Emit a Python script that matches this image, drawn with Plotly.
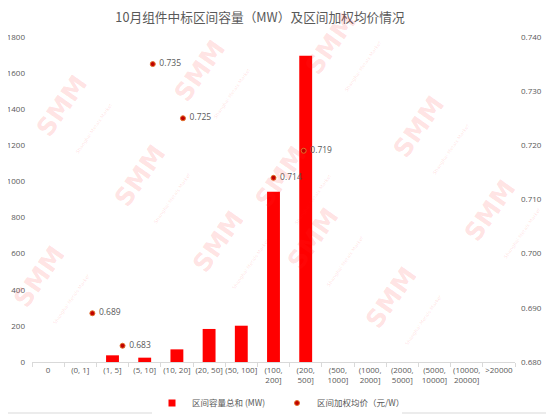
import plotly.graph_objects as go

# ---- data ----
categories = ["0", "(0, 1]", "(1, 5]", "(5, 10]", "(10, 20]", "(20, 50]", "(50, 100]",
              "(100,<br>200]", "(200,<br>500]", "(500,<br>1000]", "(1000,<br>2000]",
              "(2000,<br>5000]", "(5000,<br>10000]", "(10000,<br>20000]", ">20000"]
capacity_mw = [0, 0, 37, 24, 70, 183, 201, 943, 1696, 0, 0, 0, 0, 0, 0]

# price series is drawn on its own (secondary) category scale with 16 slots
price_slots = [2, 3, 4, 5, 8, 9]
price_values = [0.689, 0.683, 0.735, 0.725, 0.714, 0.719]

left_ticks = [0, 200, 400, 600, 800, 1000, 1200, 1400, 1600, 1800]
right_ticks = [0.680, 0.690, 0.700, 0.710, 0.720, 0.730, 0.740]

title_text = "10月组件中标区间容量（MW）及区间加权均价情况"
bar_name = "区间容量总和 (MW)"
price_name = "区间加权均价（元/W）"

OFF = 8  # page body margin
W, H = 554 - OFF, 420 - OFF
L, T = 32 - OFF, 37 - OFF
pw, ph = 483, 325
R, B = W - L - pw, H - T - ph

font_main = "Open Sans, Noto Sans CJK SC, sans-serif"
grey = "#595959"
bar_color = "#FF0000"

fig = go.Figure()

fig.add_trace(go.Bar(
    x=categories, y=capacity_mw, name=bar_name, showlegend=False,
    marker=dict(color=bar_color, line=dict(width=0)),
    xaxis="x", yaxis="y",
))
# legend entry for the bars (small square like the reference)
fig.add_trace(go.Scatter(
    x=[None], y=[None], name=bar_name, mode="markers",
    marker=dict(color=bar_color, symbol="square", size=7, line=dict(width=0)),
    xaxis="x", yaxis="y",
))

fig.add_trace(go.Scatter(
    x=price_slots, y=price_values, name=price_name, mode="markers",
    marker=dict(color="#C00000", size=5, line=dict(color="#E2702A", width=1)),
    xaxis="x2", yaxis="y2",
))
fig.add_trace(go.Scatter(
    x=price_slots, y=price_values, mode="text", showlegend=False,
    text=["   " + f"{v:.3f}" for v in price_values], textposition="middle right",
    textfont=dict(size=8.5, color=grey, family=font_main),
    xaxis="x2", yaxis="y2",
))

# watermark positions (page pixels)
wm = [(28, 67), (212, 32), (389, 5), (477, 88), (293, 138), (106, 184),
      (548, 219), (371, 247), (184, 297), (5, 332), (449, 353)]
for px, py in wm:
    fig.add_annotation(
        x=(px - 32) / pw, y=(362 - py) / ph, xref="paper", yref="paper",
        text="<b>SMM</b><br><span style='font-size:5px'>Shanghai Metals Market</span>",
        showarrow=False, textangle=-55,
        font=dict(size=25, color="rgba(255,40,40,0.14)", family="DejaVu Sans"),
    )

fig.update_layout(
    width=W, height=H,
    margin=dict(l=L, r=R, t=T, b=B, autoexpand=False),
    paper_bgcolor="white", plot_bgcolor="white",
    title=dict(text=title_text, x=(260 - OFF) / W, xref="container", xanchor="center",
               y=1 - (18 - OFF) / H, yanchor="middle", yref="container",
               font=dict(size=12.7, color=grey, family="Noto Sans CJK SC")),
    showlegend=True,
    legend=dict(orientation="h", x=(277 - OFF) / W, xanchor="center", xref="container",
                y=1 - (403 - OFF) / H, yanchor="middle", yref="container",
                font=dict(size=8.5, color=grey, family="Noto Sans CJK SC"),
                itemwidth=30, tracegroupgap=0, entrywidth=80, entrywidthmode="pixels"),
    bargap=0.6,
    xaxis=dict(type="category", showgrid=False, showline=True, linecolor="#D9D9D9",
               ticks="outside", tickson="boundaries", ticklen=4, tickcolor="#D9D9D9",
               tickfont=dict(size=8, color=grey, family=font_main), tickangle=0,
               automargin=False, fixedrange=True),
    xaxis2=dict(overlaying="x", range=[0, 16], visible=False, fixedrange=True),
    yaxis=dict(range=[0, 1800], tickvals=left_ticks, showgrid=False, zeroline=False,
               showline=False, tickfont=dict(size=8, color=grey, family=font_main),
               ticks="", ticklabelstandoff=6, automargin=False),
    yaxis2=dict(overlaying="y", side="right", range=[0.68, 0.74], tickvals=right_ticks,
                tickformat=".3f", showgrid=False, zeroline=False, showline=False,
                tickfont=dict(size=8, color=grey, family=font_main),
                ticks="", ticklabelstandoff=5, automargin=False),
    shapes=[dict(type="rect", xref="paper", yref="paper",
                 x0=(2 - 32) / pw, x1=(551 - 32) / pw,
                 y0=(362 - 413) / ph, y1=(362 - 3) / ph,
                 line=dict(color="#D9D9D9", width=1), layer="below")],
)

fig.write_html("out.html")
